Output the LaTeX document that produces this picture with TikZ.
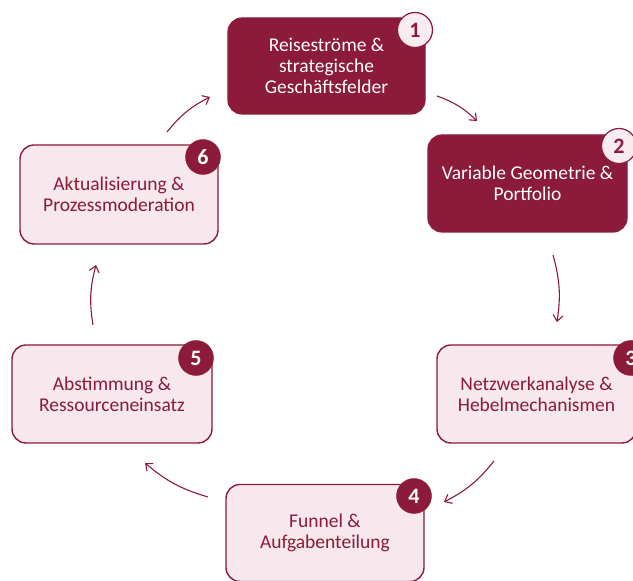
\documentclass[tikz,border=0pt]{standalone}
\usepackage{fontspec}
\setmainfont{Carlito}
\usetikzlibrary{arrows.meta}
\definecolor{maroon}{RGB}{140,26,58}
\definecolor{rosefill}{RGB}{246,232,236}
\definecolor{badgefill}{RGB}{249,236,240}
\tikzset{
  darkbox/.style={draw=maroon, fill=maroon, line width=1.2pt, rounded corners=14pt,
    minimum width=197pt, minimum height=96pt, text=white, align=center,
    font=\fontsize{19.5}{21}\selectfont, inner sep=0pt},
  lightbox/.style={draw=maroon, fill=rosefill, line width=1.4pt, rounded corners=14pt,
    minimum width=197pt, minimum height=96pt, text=maroon, align=center,
    font=\fontsize{19.5}{21}\selectfont, inner sep=0pt},
  darkbadge/.style={circle, fill=maroon, draw=maroon, minimum size=35pt, inner sep=0pt,
    text=white, font=\fontsize{22}{22}\selectfont\bfseries},
  lightbadge/.style={circle, fill=badgefill, draw=maroon, line width=1.2pt, minimum size=35pt,
    inner sep=0pt, text=maroon, font=\fontsize{22}{22}\selectfont\bfseries},
  cyc/.style={draw=maroon, line width=1.1pt, -{Straight Barb[length=6pt,width=10pt]}, bend left=12}
}
\begin{document}
\begin{tikzpicture}[x=1pt,y=1pt]
\useasboundingbox (0,0) rectangle (633,581);
% boxes
\node[darkbox, minimum width=197pt, minimum height=96pt] (b1) at (326.5,515) {Reiseströme \&\\strategische\\Geschäftsfelder};
\node[darkbox, minimum width=199pt, minimum height=97pt] (b2) at (527.5,397.5) {Variable Geometrie \&\\Portfolio};
\node[lightbox, minimum width=199pt, minimum height=98pt] (b3) at (536.5,187) {Netzwerkanalyse \&\\Hebelmechanismen};
\node[lightbox, minimum width=198pt, minimum height=97pt] (b4) at (325,48) {Funnel \&\\Aufgabenteilung};
\node[lightbox, minimum width=200pt, minimum height=98pt] (b5) at (112,187) {Abstimmung \&\\Ressourceneinsatz};
\node[lightbox, minimum width=198pt, minimum height=99pt] (b6) at (119,386.5) {Aktualisierung \&\\Prozessmoderation};
% badges
\node[lightbadge] (n1) at (415,551) {1};
\node[lightbadge] (n2) at (619,435) {2};
\node[darkbadge] (n3) at (631,223) {3};
\node[darkbadge] (n4) at (414,85) {4};
\node[darkbadge] (n5) at (196,223) {5};
\node[darkbadge] (n6) at (203,424) {6};
% arrow end points
\coordinate (a12s) at (437,485); \coordinate (a12e) at (477,460);
\coordinate (a23s) at (553,326); \coordinate (a23e) at (557,259);
\coordinate (a34s) at (494,120); \coordinate (a34e) at (444,79);
\coordinate (a45s) at (208,84);  \coordinate (a45e) at (145,118);
\coordinate (a56s) at (93,256);  \coordinate (a56e) at (96,316);
\coordinate (a61s) at (167,449); \coordinate (a61e) at (210,484);
\draw[cyc] (a12s) to (a12e);
\draw[cyc] (a23s) to (a23e);
\draw[cyc] (a34s) to (a34e);
\draw[cyc] (a45s) to (a45e);
\draw[cyc] (a56s) to (a56e);
\draw[cyc] (a61s) to (a61e);
\end{tikzpicture}
\end{document}
